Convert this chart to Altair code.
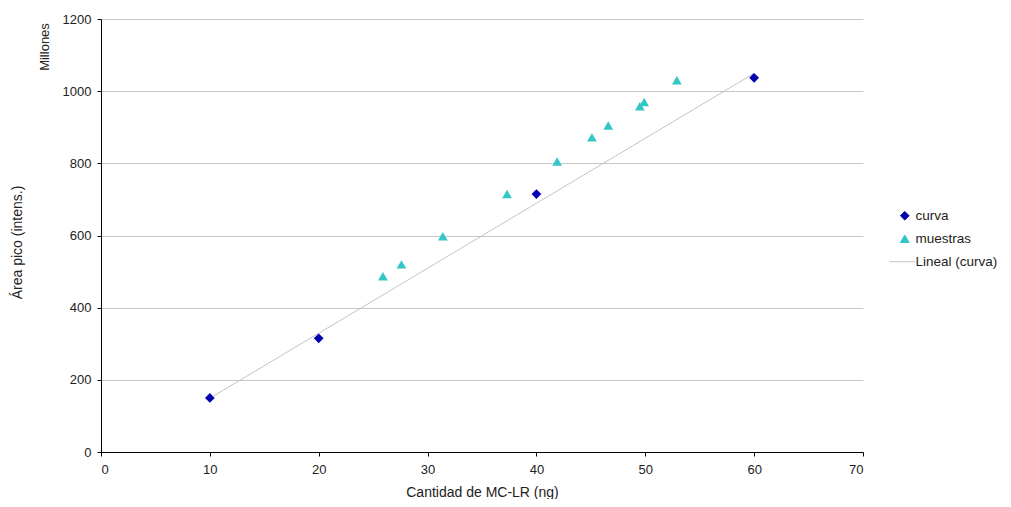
import altair as alt
import pandas as pd

# data
curva_x = [10, 20, 40, 60]
curva_y = [150, 315, 715, 1037]
muestras_x = [25.9, 27.6, 31.4, 37.3, 41.9, 45.1, 46.6, 49.5, 49.9, 52.9]
muestras_y = [487, 520, 598, 715, 805, 872, 905, 958, 970, 1030]
series = ["curva", "muestras", "Lineal (curva)"]
colors = ["#0000B0", "#33C6C6", "#C4C4C4"]
shapes = ["diamond", "triangle-up", "M-3.6,0L2.4,0"]
x_ticks = [0, 10, 20, 30, 40, 50, 60, 70]
y_ticks = [0, 200, 400, 600, 800, 1000, 1200]

FONT = "Liberation Sans, Arial"
TXT = "#222222"

df_c = pd.DataFrame({"x": curva_x, "y": curva_y, "serie": "curva"})
df_m = pd.DataFrame({"x": muestras_x, "y": muestras_y, "serie": "muestras"})
df_pts = pd.concat([df_c, df_m], ignore_index=True)

legend = alt.Legend(
    title=None, orient="none", legendX=797, legendY=190,
    labelFont=FONT, labelFontSize=13.5, labelColor=TXT,
    symbolSize=75, symbolStrokeWidth=1, rowPadding=8, labelOffset=4,
)

xs = alt.Scale(domain=[0, 70], nice=False)
ys = alt.Scale(domain=[0, 1200], nice=False)

fill_scale = alt.Scale(domain=series, range=colors)
stroke_scale = alt.Scale(domain=series, range=colors)
shape_scale = alt.Scale(domain=series, range=shapes)

xaxis = alt.Axis(
    values=x_ticks, grid=False, title="Cantidad de MC-LR (ng)",
    domainColor="#000000", tickColor="#000000", tickSize=4,
    labelPadding=7, labelFont=FONT, labelFontSize=13, labelColor=TXT,
    titleFont=FONT, titleFontSize=14, titleFontWeight="normal", titleColor=TXT,
    titleY=33, titleBaseline="top",
)
yaxis = alt.Axis(
    values=y_ticks, format="d", grid=True, gridColor="#C8C8C8",
    title="Área pico (intens.)",
    domainColor="#000000", tickColor="#000000", tickSize=4,
    labelPadding=6, labelFont=FONT, labelFontSize=13, labelColor=TXT,
    titleFont=FONT, titleFontSize=14, titleFontWeight="normal", titleColor=TXT,
    titleX=-84, titleY=223, titleBaseline="middle",
)

points = alt.Chart(df_pts).mark_point(filled=True, opacity=1, size=95).encode(
    x=alt.X("x:Q", scale=xs, axis=xaxis),
    y=alt.Y("y:Q", scale=ys, axis=yaxis),
    fill=alt.Fill("serie:N", scale=fill_scale, legend=legend),
    shape=alt.Shape("serie:N", scale=shape_scale, legend=legend),
)

line = alt.Chart(df_c).transform_regression("x", "y").transform_calculate(
    serie="'Lineal (curva)'"
).mark_line(strokeWidth=1).encode(
    x=alt.X("x:Q", scale=xs),
    y=alt.Y("y:Q", scale=ys),
    stroke=alt.Stroke("serie:N", scale=stroke_scale, legend=legend),
)

millones = alt.Chart(pd.DataFrame({"t": ["Millones"]})).mark_text(
    angle=270, font=FONT, fontSize=13, color=TXT, baseline="middle", align="center"
).encode(x=alt.value(-56), y=alt.value(28), text="t:N")

chart = alt.layer(line, points, millones).properties(
    width=762, height=433,
    padding={"left": 93, "top": 11, "right": 140, "bottom": 47},
    autosize=alt.AutoSizeParams(type="none"),
).configure_view(stroke=None)

chart.save("out.html", embed_options={"renderer": "svg", "actions": False})
